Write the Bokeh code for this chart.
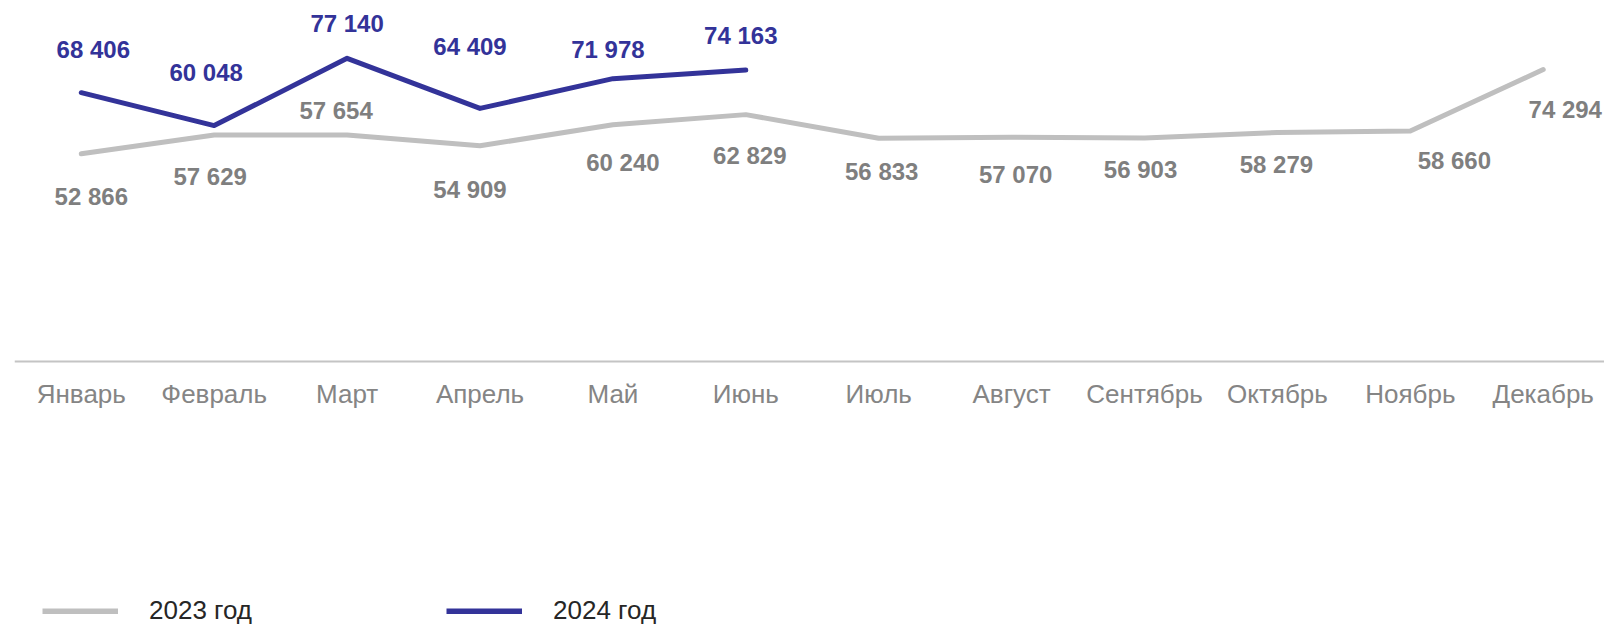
from bokeh.plotting import figure
from bokeh.models import ColumnDataSource, Range1d, FixedTicker, Legend, LegendItem
from bokeh.embed import file_html
from bokeh.resources import INLINE
from bokeh.core.properties import value

# ---- data ----
months = ["Январь", "Февраль", "Март", "Апрель", "Май", "Июнь",
          "Июль", "Август", "Сентябрь", "Октябрь", "Ноябрь", "Декабрь"]
values_2023 = [52866, 57629, 57654, 54909, 60240, 62829,
               56833, 57070, 56903, 58279, 58660, 74294]
values_2024 = [68406, 60048, 77140, 64409, 71978, 74163]
series_names = ["2023 год", "2024 год"]

# ---- label placement (screen px offsets from points; layout only) ----
off_2023_x = [10, -4, -11, -10, 10, 4, 3, 4, -4, -1, 44, 22]
off_2023_y = [43, 41, -24, 44, 38, 41, 33, 37, 32, 32, 29, 40]
off_2024_x = [12, -8, 0, -10, -5, -5]
off_2024_y = [-43, -53, -35, -62, -29, -35]

C23 = "#bfbfbf"
C24 = "#333399"
LBL23 = "#7f7f7f"
FONT = "Liberation Sans"
NAN = float("nan")


def fmt(v):
    return f"{v:,}".replace(",", " ")


idx23 = list(range(len(values_2023)))
idx24 = list(range(len(values_2024)))

src23 = ColumnDataSource(dict(x=idx23, y=values_2023,
                              label=[fmt(v) for v in values_2023],
                              dx=off_2023_x, dy=off_2023_y))
src24 = ColumnDataSource(dict(x=idx24, y=values_2024,
                              label=[fmt(v) for v in values_2024],
                              dx=off_2024_x, dy=off_2024_y))

p = figure(width=1604, height=627, output_backend="svg", toolbar_location=None,
           title=None, x_range=Range1d(-0.5026, 11.461),
           y_range=Range1d(-67539, 91840), y_axis_location=None,
           min_border_left=14, min_border_right=0, min_border_top=0,
           min_border_bottom=0)
p.outline_line_color = None
p.xgrid.visible = False
p.ygrid.visible = False
p.background_fill_color = "white"
p.border_fill_color = "white"

ax = p.xaxis[0]
ax.fixed_location = 0
ax.ticker = FixedTicker(ticks=list(range(len(months))))
ax.major_label_overrides = {i: m for i, m in enumerate(months)}
ax.major_tick_line_color = None
ax.minor_tick_line_color = None
ax.major_tick_out = 0
ax.major_tick_in = 0
ax.major_label_standoff = 17
ax.major_label_text_font = FONT
ax.major_label_text_font_size = "26px"
ax.major_label_text_color = "#858585"
ax.axis_line_color = "#c4c4c4"
ax.axis_line_width = 2

r23 = p.line("x", "y", source=src23, line_color=C23, line_width=5,
             line_cap="round", line_join="round")
r24 = p.line("x", "y", source=src24, line_color=C24, line_width=5,
             line_cap="round", line_join="round")

p.text("x", "y", text="label", x_offset="dx", y_offset="dy", source=src23,
       text_font=value(FONT), text_font_style="bold", text_font_size="24px",
       text_color=LBL23, text_align="center", text_baseline="middle",
       level="overlay")
p.text("x", "y", text="label", x_offset="dx", y_offset="dy", source=src24,
       text_font=value(FONT), text_font_style="bold", text_font_size="24px",
       text_color=C24, text_align="center", text_baseline="middle",
       level="overlay")

# legend swatches (a single empty point each: style holders only)
leg23 = p.line(x=[NAN], y=[NAN], line_color=C23, line_width=6, line_cap="butt")
leg24 = p.line(x=[NAN], y=[NAN], line_color=C24, line_width=6, line_cap="butt")

legend = Legend(items=[LegendItem(label=series_names[0], renderers=[leg23]),
                       LegendItem(label=series_names[1], renderers=[leg24])],
                orientation="horizontal", location=(28, 1),
                glyph_width=76, glyph_height=6, label_standoff=31, spacing=194,
                padding=0, margin=0, border_line_color=None,
                background_fill_alpha=0, label_text_font=FONT,
                label_text_font_size="26px", label_text_color="#262626")
p.add_layout(legend)

open("out.html", "w").write(file_html(p, INLINE))
